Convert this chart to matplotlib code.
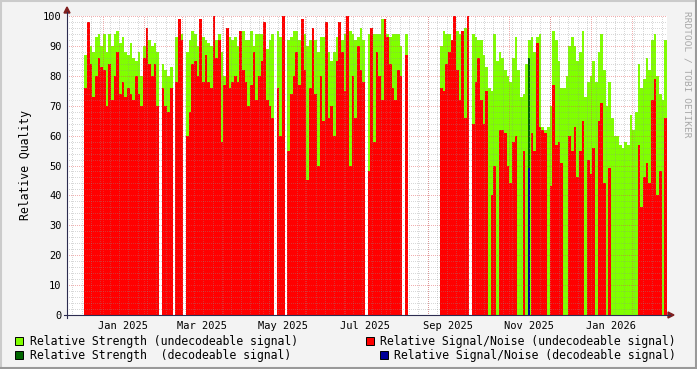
import datetime as dt

import numpy as np
import matplotlib
matplotlib.use("Agg")
import matplotlib.pyplot as plt
import matplotlib.dates as mdates
from matplotlib.lines import Line2D
from matplotlib.patches import Rectangle, Polygon

nan = float("nan")

# one sample every 2 days, starting 18 Dec 2024
first_day = dt.datetime(2024, 12, 18)
step_days = 2

# relative strength (undecodeable signal)
strength = (
    [87, 86, 90, 88, 93, 94, 90, 94, 88, 94, 90, 94, 95, 91, 93, 88, 87, 91, 86, 85, 88, 80, 90, 94, 92, 90]
    + [91, 88, nan, 84, 82, 80, 83, nan, 93, 95, 94, nan, 88, 92, 95, 94, 90, 94, 93, 92,
       91, 90, 93, 92, 94, 88, 80, 85, 93, 92, 93, 90]
    + [95, 95, 92, 92, 95, 90, 94, 94, 94, 98, 89, 92, 94, nan, 95, 93, 99, nan, 92, 93,
       95, 95, 92, 98, 94, 90, 92, 93, 92, 88, 93]
    + [93, 88, 88, 85, 88, 93, 95, 92, 94, 99, 95, 94, 92, 93, 96, 92, nan, 94, 94, 94,
       94, 94, 99, 96, 94, 93, 94, 94, 94, 90, nan, 94]
    + [nan] * 12
    + [90, 95, 94, 94, 92, 95, 95, 94, 94, 96, 98, nan, 94, 93, 92, 92, 87, 83, 76, 75]
    + [94, 85, 88, 86, 82, 80, 78, 86, 93, 82, 73, 74, 84, 92, 93, 88, 93, 94, 63, 62,
       63, 70, 95, 92, 85, 76, 76, 80, 90, 93, 90, 85]
    + [88, 95, 73, 78, 80, 85, 78, 88, 94, 82, 70, 78, 66, 60, 60, 57, 56, 58, 57, 67,
       62, 68, 84, 76, 79, 86, 82, 92, 94, 80, 74, 72, 92]
)

# relative signal/noise (undecodeable signal)
snr = (
    [76, 98, 84, 73, 80, 86, 83, 82, 70, 84, 72, 80, 88, 74, 78, 73, 76, 74, 72, 80, 74, 70, 86, 96, 84, 80]
    + [84, 70, nan, 76, 70, 68, 76, nan, 78, 99, 92, nan, 60, 68, 84, 85, 80, 99, 78, 87,
       78, 76, 100, 86, 92, 58, 77, 96, 76, 78, 80, 78]
    + [95, 82, 78, 70, 77, 88, 72, 80, 85, 98, 72, 70, 66, nan, 76, 60, 100, nan, 55, 74,
       80, 88, 77, 99, 82, 45, 76, 96, 74, 50, 80]
    + [65, 98, 66, 70, 60, 85, 98, 88, 75, 100, 50, 80, 66, 90, 82, 78, nan, 48, 96, 58,
       88, 80, 72, 99, 93, 84, 76, 72, 82, 80, nan, 87]
    + [nan] * 12
    + [76, 75, 84, 88, 92, 100, 82, 72, 95, 66, 100, nan, 64, 78, 86, 72, 64, 75, 0, 40]
    + [50, 0, 62, 62, 61, 50, 44, 58, 60, 0, 0, 55, 0, 0, 61, 55, 91, 63, 62, 61,
       0, 43, 77, 57, 58, 51, 0, 0, 60, 55, 63, 46]
    + [55, 65, 0, 52, 47, 56, 0, 65, 71, 44, 0, 49, 0, 0, 0, 0, 0, 0, 0, 0,
       0, 0, 57, 36, 46, 51, 44, 72, 79, 40, 48, 0, 66]
)

# the only decodeable sample
decode_bins = [166]
decode_strength = [86]
decode_snr = [49]

tick_labels = ["Jan 2025", "Mar 2025", "May 2025", "Jul 2025", "Sep 2025", "Nov 2025", "Jan 2026"]
tick_dates = [dt.datetime(2025, 1, 16), dt.datetime(2025, 3, 16), dt.datetime(2025, 5, 16),
              dt.datetime(2025, 7, 16), dt.datetime(2025, 9, 16), dt.datetime(2025, 11, 16),
              dt.datetime(2026, 1, 16)]

W, H = 697, 369
mono = "DejaVu Sans Mono"
c_strength = "#80FF00"
c_snr = "#FF0000"
c_dstrength = "#006600"
c_dsnr = "#000099"


def fx(x):
    return x / W


def fy(y):
    return 1 - y / H


fig = plt.figure(figsize=(W / 100, H / 100), dpi=100, facecolor="#F3F3F3")
ax = fig.add_axes([fx(67), fy(315), 600 / W, 299 / H])
ax.set_facecolor("white")

x0 = mdates.date2num(first_day)
xs = x0 + np.arange(len(strength)) * step_days
ax.bar(xs, np.nan_to_num(strength), width=step_days, align="edge", color=c_strength,
       linewidth=0, antialiased=False, zorder=2)
ax.bar(xs, np.nan_to_num(snr), width=step_days, align="edge", color=c_snr,
       linewidth=0, antialiased=False, zorder=3)
dxs = x0 + np.array(decode_bins) * step_days
ax.bar(dxs, decode_strength, width=step_days * 0.6, align="edge", color=c_dstrength,
       linewidth=0, antialiased=False, zorder=4)
ax.bar(dxs, decode_snr, width=step_days * 0.6, align="edge", color=c_dsnr,
       linewidth=0, antialiased=False, zorder=5)

start = dt.datetime(2024, 12, 5, 2)
xmin = mdates.date2num(start)
xmax = xmin + 448.8
end = mdates.num2date(xmax).replace(tzinfo=None)
ax.set_xlim(xmin, xmax)
ax.set_ylim(0, 100)

# rrdtool style dotted grid, drawn over the data
minor = dict(color="#909090", alpha=0.35, lw=0.72, dashes=(1, 1.5), zorder=6, antialiased=False)
major = dict(color="#E05050", alpha=0.45, lw=0.72, dashes=(1, 1.5), zorder=6, antialiased=False)
for v in range(2, 101, 2):
    ax.axhline(v, **(major if v % 10 == 0 else minor))
for d in mdates.WeekdayLocator(byweekday=mdates.MO).tick_values(start, end):
    if xmin < d < xmax:
        ax.axvline(d, **minor)
for d in mdates.MonthLocator().tick_values(start, end):
    if xmin < d < xmax:
        ax.axvline(d, **major)

ax.set_xticks(mdates.date2num(tick_dates))
ax.set_xticklabels(tick_labels, family=mono, fontsize=7.5)
ax.set_yticks(range(0, 101, 10))
ax.set_yticklabels([str(v) for v in range(0, 101, 10)], family=mono, fontsize=7.5)
ax.tick_params(axis="both", length=0, pad=4)
for s in ax.spines.values():
    s.set_visible(False)

ax.set_ylabel("Relative Quality", family=mono, fontsize=8.3, labelpad=8)

# axis lines with arrows
axis_col = "#2C2C50"
fig.add_artist(Line2D([fx(64), fx(670)], [fy(315), fy(315)], color=axis_col, lw=0.8))
fig.add_artist(Line2D([fx(67), fx(67)], [fy(318), fy(12)], color=axis_col, lw=0.8))
arrow_col = "#7F1F1F"
fig.add_artist(Polygon([[fx(668), fy(312)], [fx(668), fy(318)], [fx(674), fy(315)]],
                       closed=True, color=arrow_col, transform=fig.transFigure))
fig.add_artist(Polygon([[fx(64), fy(13)], [fx(70), fy(13)], [fx(67), fy(7)]],
                       closed=True, color=arrow_col, transform=fig.transFigure))

# legend
legend = [
    (15, 341, c_strength, 30, "Relative Strength (undecodeable signal)"),
    (366, 341, c_snr, 380, "Relative Signal/Noise (undecodeable signal)"),
    (15, 355, c_dstrength, 30, "Relative Strength  (decodeable signal)"),
    (380, 355, c_dsnr, 394, "Relative Signal/Noise (decodeable signal)"),
]
for bx, by, col, tx, txt in legend:
    fig.add_artist(Rectangle((fx(bx), fy(by + 4)), 8 / W, 8 / H, facecolor=col,
                             edgecolor="black", lw=0.7, transform=fig.transFigure))
    fig.text(fx(tx), fy(by), txt, family=mono, fontsize=8.3, va="center", ha="left")

# watermark
fig.text(fx(687), fy(74), "RRDTOOL / TOBI OETIKER", family=mono, fontsize=6.8,
         color="#A8A8A8", rotation=270, ha="center", va="center")

# frame shading
fig.add_artist(Line2D([0, 1], [fy(0.5), fy(0.5)], color="#CBCBCB", lw=1.5))
fig.add_artist(Line2D([fx(0.5), fx(0.5)], [0, 1], color="#CBCBCB", lw=1.5))
fig.add_artist(Line2D([0, 1], [fy(368), fy(368)], color="#999999", lw=1.5))
fig.add_artist(Line2D([fx(696), fx(696)], [0, 1], color="#999999", lw=1.5))

fig.savefig("out.png", dpi=100, facecolor=fig.get_facecolor())
